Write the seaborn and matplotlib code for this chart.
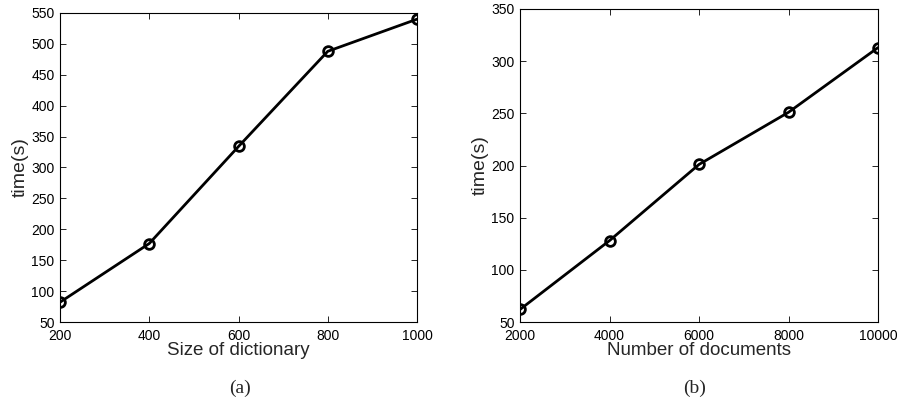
import matplotlib
matplotlib.use("Agg")
import matplotlib.pyplot as plt
import seaborn as sns
import pandas as pd

dict_size = [200, 400, 600, 800, 1000]
time_dict = [82, 177, 334, 488, 540]
num_docs = [2000, 4000, 6000, 8000, 10000]
time_docs = [62, 128, 201, 251, 313]

sns.set_theme(style="white")
plt.rcParams['font.family'] = ['Liberation Sans', 'DejaVu Sans']

fig = plt.figure(figsize=(8.99, 4.05), dpi=100)
ax1 = fig.add_axes([60/899, 83/405, 357/899, 309/405])
ax2 = fig.add_axes([520/899, 83/405, 358/899, 313/405])

df1 = pd.DataFrame({"x": dict_size, "y": time_dict})
df2 = pd.DataFrame({"x": num_docs, "y": time_docs})

for ax, df in [(ax1, df1), (ax2, df2)]:
    sns.lineplot(data=df, x="x", y="y", ax=ax, color="black", linewidth=2,
                 marker="o", markersize=7, markerfacecolor="none",
                 markeredgecolor="black", markeredgewidth=2)
    for s in ax.spines.values():
        s.set_visible(True)
        s.set_color("black")
        s.set_linewidth(0.8)
    ax.tick_params(direction="in", length=4, width=0.6, top=True, right=True,
                   bottom=True, left=True, labelsize=10, colors="black")
    ax.tick_params(axis="x", pad=5)
    ax.tick_params(axis="y", pad=4)
    ax.set_ylabel("time(s)", fontsize=14, labelpad=2)

ax1.set_xlim(200, 1000)
ax1.set_ylim(50, 550)
ax1.set_xticks(dict_size)
ax1.set_yticks(range(50, 551, 50))
ax1.set_xlabel("Size of dictionary", fontsize=13.5, labelpad=-1)

ax2.set_xlim(2000, 10000)
ax2.set_ylim(50, 350)
ax2.set_xticks(num_docs)
ax2.set_yticks(range(50, 351, 50))
ax2.set_xlabel("Number of documents", fontsize=13.5, labelpad=-1)

fig.text(240/899, 1 - 388/405, "(a)", ha="center", va="center", fontsize=14,
         family=["Liberation Serif"])
fig.text(695/899, 1 - 388/405, "(b)", ha="center", va="center", fontsize=14,
         family=["Liberation Serif"])

fig.savefig("out.png", dpi=100)
